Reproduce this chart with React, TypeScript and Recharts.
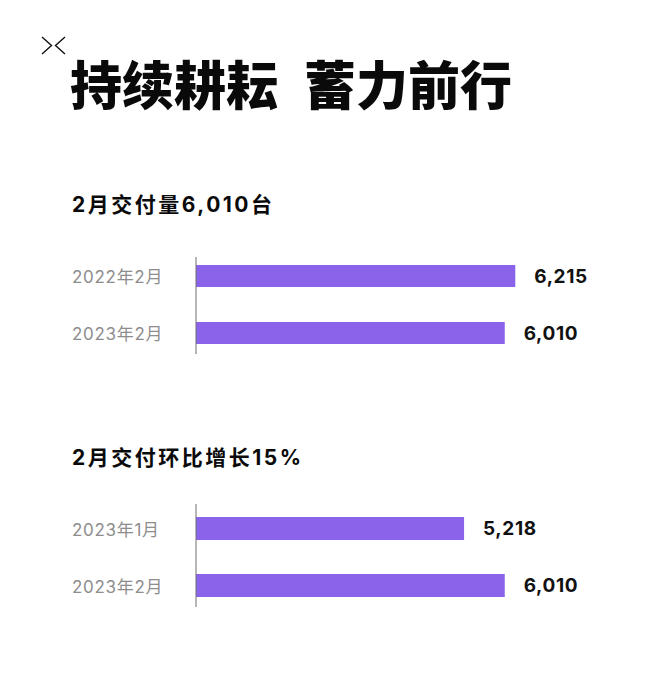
import { BarChart, Bar, XAxis, YAxis, LabelList } from "recharts";

const TITLE = "持续耕耘\u2002蓄力前行";

const yoyTitle = "2月交付量6,010台";
const yoyMonths = ["2022年2月", "2023年2月"];
const yoyValues = [6215, 6010];

const momTitle = "2月交付环比增长15%";
const momMonths = ["2023年1月", "2023年2月"];
const momValues = [5218, 6010];

const PURPLE = "#8b63ea";
const LATIN = "Inter, 'Noto Sans CJK SC', sans-serif";

function toRows(months: string[], values: number[]) {
  return months.map((month, i) => ({ month, value: values[i] }));
}

function MonthTick(props: any) {
  const { y, payload } = props;
  return (
    <text
      x={72}
      y={y}
      dy={1}
      textAnchor="start"
      dominantBaseline="central"
      fill="#8d8d8d"
      fontSize={17}
      letterSpacing={0.7}
      fontFamily={LATIN}
    >
      {payload.value}
    </text>
  );
}

function DeliveryBars({
  months,
  values,
  top,
  bottom,
  pad,
  barSize,
}: {
  months: string[];
  values: number[];
  top: number;
  bottom: number;
  pad: { top: number; bottom: number };
  barSize: number;
}) {
  return (
    <div style={{ position: "absolute", left: 0, top, width: 664, height: 130 }}>
      <BarChart
        width={664}
        height={130}
        layout="vertical"
        data={toRows(months, values)}
        margin={{ top: 16, right: 57, bottom, left: 0 }}
      >
        <XAxis type="number" domain={[0, 8000]} hide />
        <YAxis
          type="category"
          dataKey="month"
          width={196}
          axisLine={{ stroke: "#6f6f6f", strokeWidth: 1 }}
          tickLine={false}
          tick={<MonthTick />}
          padding={pad}
        />
        <Bar dataKey="value" fill={PURPLE} barSize={barSize} isAnimationActive={false}>
          <LabelList
            dataKey="value"
            position="right"
            offset={19}
            formatter={(v: any) => Number(v).toLocaleString("en-US")}
            style={{
              fill: "#111",
              fontSize: 19,
              fontWeight: 700,
              fontFamily: LATIN,
              letterSpacing: 0.6,
            }}
          />
        </Bar>
      </BarChart>
    </div>
  );
}

const subtitleStyle = {
  position: "absolute" as const,
  left: 72,
  fontFamily: LATIN,
  fontWeight: 700,
  fontSize: 21,
  lineHeight: "24px",
  color: "#0a0a0a",
  whiteSpace: "nowrap" as const,
  letterSpacing: 2.5,
};

export default function App() {
  return (
    <div
      style={{
        position: "absolute",
        left: 0,
        top: 0,
        width: 664,
        height: 685,
        background: "#fff",
        overflow: "hidden",
      }}
    >
      <svg
        width={32}
        height={22}
        style={{ position: "absolute", left: 38, top: 35 }}
      >
        <polyline points="4,2 13.5,10.5 4,19" fill="none" stroke="#111" strokeWidth={1.4} />
        <polyline points="27,2 17.5,10.5 27,19" fill="none" stroke="#111" strokeWidth={1.4} />
      </svg>

      <div
        style={{
          position: "absolute",
          left: 70,
          top: 57,
          fontFamily: "'Noto Sans CJK SC', sans-serif",
          fontWeight: 900,
          fontSize: 52,
          lineHeight: "52px",
          color: "#0a0a0a",
          whiteSpace: "nowrap",
        }}
      >
        {TITLE}
      </div>

      <div style={{ ...subtitleStyle, top: 193 }}>{yoyTitle}</div>

      <DeliveryBars
        months={yoyMonths}
        values={yoyValues}
        top={241}
        bottom={17}
        pad={{ top: -10, bottom: -7 }}
        barSize={22}
      />

      <div style={{ ...subtitleStyle, top: 446 }}>{momTitle}</div>

      <DeliveryBars
        months={momMonths}
        values={momValues}
        top={488}
        bottom={11}
        pad={{ top: -4, bottom: -7 }}
        barSize={23}
      />
    </div>
  );
}
